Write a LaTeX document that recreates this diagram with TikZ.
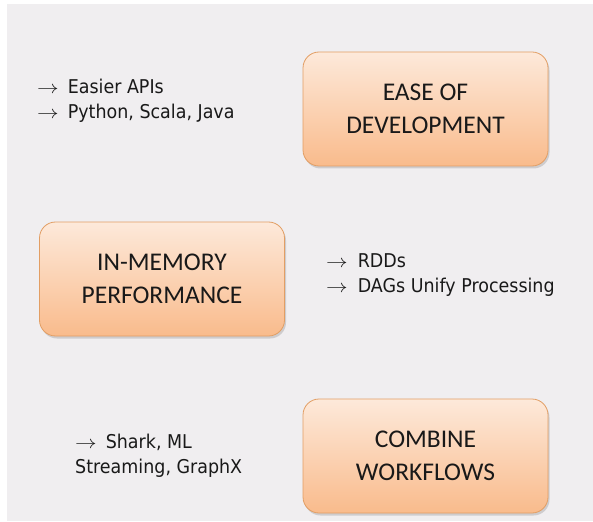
\documentclass[tikz,border=0pt]{standalone}
\usepackage{fontspec}
\setmainfont{Carlito}
\newfontfamily\listfont[FakeStretch=0.92]{DejaVu Sans}
\usetikzlibrary{positioning,shadows}
\definecolor{bggray}{RGB}{240,238,240}
\definecolor{boxtop}{RGB}{253,233,218}
\definecolor{boxbot}{RGB}{249,187,140}
\definecolor{boxline}{RGB}{226,158,100}
\definecolor{inktext}{RGB}{25,25,25}
\newcommand\pointarrow{\scalebox{1.25}[1.05]{$\rightarrow$}}

\begin{document}
\begin{tikzpicture}[x=1pt, y=-1pt,
    topic/.style={draw=boxline, line width=0.8pt, rounded corners=16pt, top color=boxtop, bottom color=boxbot,
      minimum width=245pt, minimum height=114pt, align=center, text=inktext,
      font=\fontsize{25.5}{33}\selectfont,
      drop shadow={opacity=0.3, shadow xshift=1.5pt, shadow yshift=-2.5pt}},
    points/.style={align=left, inner sep=0pt, anchor=base west, text=inktext,
      font=\listfont\fontsize{19}{24.5}\selectfont}]
        \useasboundingbox (0,0) rectangle (593,521);
        \fill[bggray] (7,4) rectangle (593,521);
        \node[topic] (b1) at (425.5,109) {EASE OF\\DEVELOPMENT};
        \node[topic] (b2) at (162,279) {IN-MEMORY\\PERFORMANCE};
        \node[topic] (b3) at (425.5,456) {COMBINE\\WORKFLOWS};
        \node[points] (t1) at (37,118.5) {\pointarrow\hspace{9pt}Easier APIs\\\pointarrow\hspace{9pt}Python, Scala, Java};
        \node[points] (t2) at (326,292) {\pointarrow\hspace{10pt}RDDs\\\pointarrow\hspace{10pt}DAGs Unify Processing};
        \node[points] (t3) at (75,473) {\pointarrow\hspace{9pt}Shark, ML\\Streaming, GraphX};
\end{tikzpicture}
\end{document}
